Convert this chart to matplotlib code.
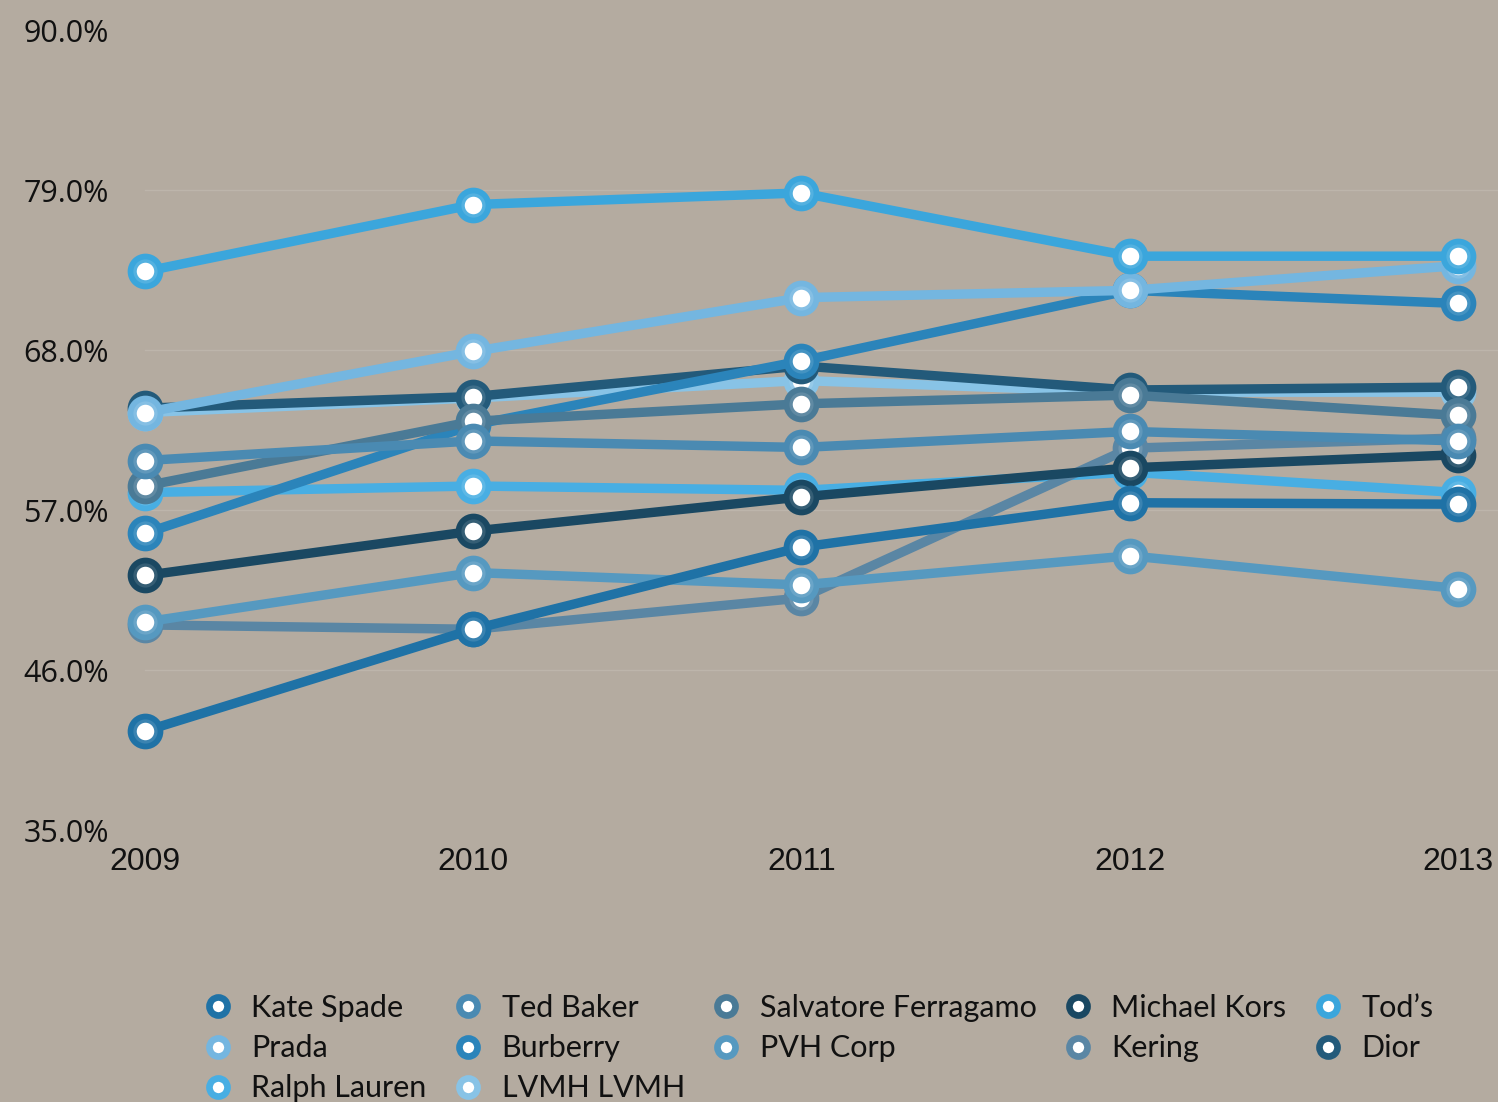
import matplotlib
matplotlib.use("Agg")
import matplotlib.pyplot as plt
from matplotlib.lines import Line2D
from matplotlib.colors import to_rgb
import numpy as np

years = ["2009", "2010", "2011", "2012", "2013"]

kate_spade = [41.8, 48.8, 54.45, 57.5, 57.4]
ted_baker = [60.4, 61.75, 61.3, 62.4, 61.75]
salvatore_ferragamo = [58.65, 63.1, 64.3, 64.9, 63.5]
michael_kors = [52.5, 55.55, 57.9, 59.9, 60.8]
tods = [73.4, 78.0, 78.8, 74.45, 74.45]
prada = [63.7, 67.9, 71.6, 72.1, 73.8]
burberry = [55.4, 62.85, 67.25, 72.1, 71.2]
pvh_corp = [49.3, 52.7, 51.85, 53.85, 51.6]
kering = [49.1, 48.8, 50.95, 61.25, 61.95]
dior = [64.0, 64.8, 66.9, 65.25, 65.45]
ralph_lauren = [58.2, 58.65, 58.35, 59.6, 58.2]
lvmh = [63.7, 64.7, 65.9, 65.1, 65.1]

names = ["Kate Spade", "Ted Baker", "Salvatore Ferragamo", "Michael Kors", "Tod’s",
         "Prada", "Burberry", "PVH Corp", "Kering", "Dior", "Ralph Lauren", "LVMH LVMH"]
series = [kate_spade, ted_baker, salvatore_ferragamo, michael_kors, tods,
          prada, burberry, pvh_corp, kering, dior, ralph_lauren, lvmh]
colors = ["#1f72a6", "#4a8ab2", "#4a7a96", "#1a4862", "#3ba6dc",
          "#74b6e0", "#2b84ba", "#5699c0", "#5a86a4", "#235a7a", "#48aee3", "#88c3e6"]

y_ticks = [35, 46, 57, 68, 79, 90]


def lighten(c, f):
    r, g, b = to_rgb(c)
    return (r + (1 - r) * f, g + (1 - g) * f, b + (1 - b) * f)


bg = "#b4aba0"
fig = plt.figure(figsize=(14.98, 11.02), dpi=100, facecolor=bg)
ax = fig.add_axes([145 / 1498, 1 - 830 / 1102, (1458 - 145) / 1498, 800 / 1102])
ax.set_facecolor(bg)

x = np.arange(len(years))
n = len(series)
for i in reversed(range(n)):
    z = 10 + (n - i) * 3
    c = colors[i]
    ax.plot(x, series[i], color=c, lw=6.8, solid_capstyle="round", zorder=z,
            clip_on=False)
    ax.plot(x, series[i], ls="none", marker="o", ms=19.5, mew=6.2, mec=c,
            mfc="white", zorder=z + 1, clip_on=False)
    ax.plot(x, series[i], ls="none", marker="o", ms=15, mew=2.4,
            mec=lighten(c, 0.12), mfc="white", zorder=z + 2, clip_on=False)

ax.set_xlim(0, len(years) - 1)
ax.set_ylim(35, 90)
ax.set_xticks(x)
ax.set_xticklabels(years, fontsize=23, family=["Liberation Sans", "DejaVu Sans"],
                   color="#111111")
ax.set_yticks(y_ticks)
ax.set_yticklabels([f"{v:.1f}%" for v in y_ticks], fontsize=22,
                   family=["Open Sans", "DejaVu Sans"], color="#111111")
ax.tick_params(axis="both", length=0)
ax.tick_params(axis="x", pad=12)
ax.tick_params(axis="y", pad=26)
for s in ax.spines.values():
    s.set_visible(False)

xmax_frac = (1498 - 145) / (1458 - 145)
for v in [46, 57, 68, 79]:
    ax.axhline(v, xmin=0, xmax=xmax_frac, color="#bdb5ab", lw=1.0, zorder=1,
               clip_on=False)

order = [0, 5, 10, 1, 6, 11, 2, 7, 3, 8, 4, 9]
handles = []
labels = []
for i in order:
    h = Line2D([], [], ls="none", marker="o", ms=13, mew=4.8, mec=colors[i],
               mfc="white")
    handles.append(h)
    labels.append(names[i])
leg = fig.legend(handles, labels, loc="upper center", ncol=5,
                 bbox_to_anchor=(818 / 1498, 1 - 994 / 1102), frameon=False,
                 prop={"family": ["Lato", "DejaVu Sans"], "size": 22},
                 handletextpad=0.6, columnspacing=0.85, labelspacing=0.4,
                 handlelength=1.0, borderaxespad=0, borderpad=0)
for t in leg.get_texts():
    t.set_color("#111111")

fig.savefig("out.png", dpi=100, facecolor=bg)
